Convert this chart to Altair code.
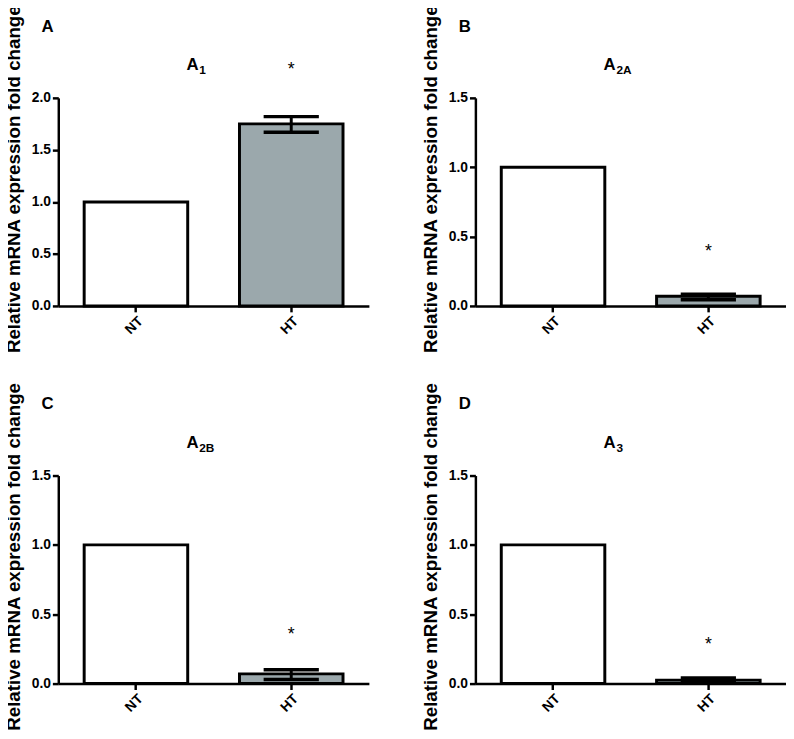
import altair as alt
import pandas as pd

groups = ["NT", "HT"]
panel_letters = ["A", "B", "C", "D"]
receptor_main = ["A", "A", "A", "A"]
receptor_sub = ["1", "2A", "2B", "3"]
nt_values = [1.0, 1.0, 1.0, 1.0]
ht_values = [1.75, 0.07, 0.07, 0.025]
ht_err_low = [1.67, 0.045, 0.03, 0.01]
ht_err_high = [1.82, 0.085, 0.10, 0.04]
star_y = [2.27, 0.39, 0.35, 0.28]
y_max = [2.0, 1.5, 1.5, 1.5]
y_ticks = [[0, 0.5, 1.0, 1.5, 2.0], [0, 0.5, 1.0, 1.5], [0, 0.5, 1.0, 1.5], [0, 0.5, 1.0, 1.5]]

FONT = "Liberation Sans"
W, H = 315, 211


def panel(i):
    bars = pd.DataFrame({"group": groups, "value": [nt_values[i], ht_values[i]]})
    err = pd.DataFrame({"group": ["HT"], "lo": [ht_err_low[i]], "hi": [ht_err_high[i]]})
    caps = pd.DataFrame({"group": ["HT", "HT"], "v": [ht_err_low[i], ht_err_high[i]]})
    star = pd.DataFrame({"group": ["HT"], "v": [star_y[i]], "t": ["*"]})
    ttl = pd.DataFrame({"letter": [panel_letters[i]], "main": [receptor_main[i]], "sub": [receptor_sub[i]]})

    xs = alt.X("group:N", sort=groups,
               scale=alt.Scale(domain=groups, paddingInner=1/3, paddingOuter=1/6),
               axis=alt.Axis(title=None, labelAngle=-45, labelFontSize=14))
    ys = alt.Y("value:Q", scale=alt.Scale(domain=[0, y_max[i]], nice=False, zero=True),
               axis=alt.Axis(title="Relative mRNA expression fold change", values=y_ticks[i],
                             format=".1f", titleFontSize=19, titleX=-35, titleY=82,
                             titleBaseline="bottom", titleAlign="center", titleAngle=270))

    bar = alt.Chart(bars).mark_bar(stroke="black", strokeWidth=3).encode(
        x=xs, y=ys,
        color=alt.Color("group:N", scale=alt.Scale(domain=groups, range=["#ffffff", "#9ba8ac"]), legend=None),
    )
    rule = alt.Chart(err).mark_rule(color="black", strokeWidth=3).encode(
        x=alt.X("group:N", sort=groups), y=alt.Y("lo:Q"), y2="hi:Q")
    cap = alt.Chart(caps).mark_tick(color="black", thickness=3.5, size=56, opacity=1).encode(
        x=alt.X("group:N", sort=groups), y=alt.Y("v:Q"))
    st = alt.Chart(star).mark_text(fontSize=18, font=FONT, baseline="middle", color="black").encode(
        x=alt.X("group:N", sort=groups), y=alt.Y("v:Q"), text="t:N")
    letter = alt.Chart(ttl).mark_text(fontSize=17, font=FONT, fontWeight="bold", align="left",
                                      baseline="alphabetic", color="black").encode(
        x=alt.value(-17), y=alt.value(-67), text="letter:N")
    main = alt.Chart(ttl).mark_text(fontSize=17, font=FONT, fontWeight="bold", align="left",
                                    baseline="alphabetic", color="black").encode(
        x=alt.value(130), y=alt.value(-28), text="main:N")
    sub = alt.Chart(ttl).mark_text(fontSize=12, font=FONT, fontWeight="bold", align="left",
                                   baseline="alphabetic", color="black").encode(
        x=alt.value(143), y=alt.value(-24), text="sub:N")
    return alt.layer(bar, rule, cap, st, letter, main, sub).properties(width=W, height=H)


chart = alt.vconcat(
    alt.hconcat(panel(0), panel(1), spacing=53),
    alt.hconcat(panel(2), panel(3), spacing=53),
    spacing=29,
).properties(
    padding={"left": -4, "top": -9, "right": 0, "bottom": 0},
    background="white",
).configure_view(stroke=None).configure_axis(
    domainColor="black", domainWidth=2.5, tickColor="black", tickWidth=2.5, tickSize=6,
    labelFont=FONT, labelFontWeight="bold", labelFontSize=14, labelColor="black", labelPadding=2,
    titleFont=FONT, titleFontWeight="bold", titleColor="black", grid=False,
)

chart.save("out.html", embed_options={"renderer": "svg", "actions": False})
